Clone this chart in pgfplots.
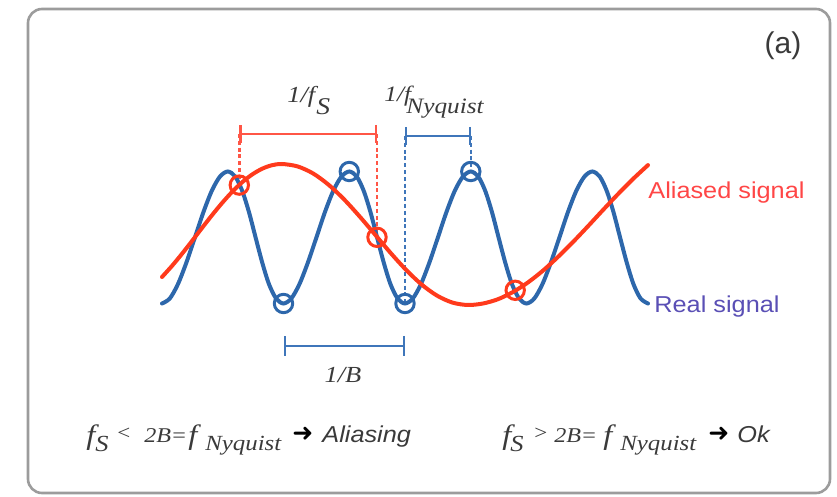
\documentclass[border=0pt]{standalone}
\usepackage{pgfplots}
\pgfplotsset{compat=1.18}
\usetikzlibrary{arrows.meta}
\usepackage{fontspec}
\setmainfont{Liberation Sans}[FakeStretch=1.1]
\newfontfamily\sansplain{Liberation Sans}
\newfontfamily\serif{Liberation Serif}[FakeStretch=1.15]
\newfontfamily\dejavu{DejaVu Sans}
\definecolor{bl}{HTML}{2D67AB}
\definecolor{rd}{HTML}{FF3A1C}
\definecolor{rdl}{HTML}{FF5646}
\definecolor{bll}{HTML}{3F76BA}
\definecolor{pur}{HTML}{5A4FB5}
\definecolor{rdt}{HTML}{FF4646}
\definecolor{frm}{HTML}{9C9C9C}
\definecolor{txt}{HTML}{3A3A3A}
\newcommand{\fs}[1]{\fontsize{#1}{#1}\selectfont}
\begin{document}
\begin{tikzpicture}
\begin{axis}[scale only axis, width=418.5pt, height=248.5pt,
  xmin=0, xmax=837, ymin=0, ymax=497, y dir=reverse,
  hide axis, clip=false]
\path (axis cs:0,0) rectangle (axis cs:837,497);
\draw[frm, line width=1.3pt, rounded corners=7pt] (axis cs:28,9) rectangle (axis cs:830,493);

% dashed guides
\addplot[rdl, line width=1.2pt, dash pattern=on 2pt off 1.4pt, no marks] coordinates {(239.3,134) (239.3,185.1)};
\addplot[rdl, line width=1.2pt, dash pattern=on 2pt off 1.4pt, no marks] coordinates {(377,134) (377,237.3)};
\addplot[bll, line width=1.2pt, dash pattern=on 2pt off 1.4pt, no marks] coordinates {(405,136) (405,303.5)};
\addplot[bll, line width=1.2pt, dash pattern=on 2pt off 1.4pt, no marks] coordinates {(470.8,136) (470.8,171.5)};

% brackets
\addplot[rdl, line width=1.1pt, no marks, {Bar[width=9pt]-Bar[width=9pt]}] coordinates {(239.3,134) (377,134)};
\addplot[bll, line width=1.1pt, no marks, {Bar[width=9pt]-Bar[width=9pt]}] coordinates {(405,136) (470.8,136)};
\addplot[bll, line width=1.1pt, no marks, {Bar[width=10pt]-Bar[width=10pt]}] coordinates {(283.5,346) (405,346)};

% real signal
\addplot[bl, line width=2pt, smooth, no marks, line cap=round] coordinates {
(162,303.5) (169.8,298.5) (177.9,284.2) (186.3,262.8) (194.9,237.5) (203.4,212.2) (211.8,190.8) (220.0,176.5) (227.8,171.5) (235.2,176.5) (242.2,190.8) (249.0,212.2) (255.6,237.5) (262.3,262.8) (269.0,284.2) (276.1,298.5)
(283.5,303.5) (291.3,298.5) (299.4,284.2) (307.8,262.8) (316.4,237.5) (324.9,212.2) (333.3,190.8) (341.5,176.5) (349.3,171.5) (356.7,176.5) (363.7,190.8) (370.5,212.2) (377.1,237.5) (383.8,262.8) (390.5,284.2) (397.6,298.5)
(405,303.5) (412.8,298.5) (420.9,284.2) (429.3,262.8) (437.9,237.5) (446.4,212.2) (454.8,190.8) (463.0,176.5) (470.8,171.5) (478.2,176.5) (485.2,190.8) (492.0,212.2) (498.6,237.5) (505.3,262.8) (512.0,284.2) (519.1,298.5)
(526.5,303.5) (534.3,298.5) (542.4,284.2) (550.8,262.8) (559.4,237.5) (567.9,212.2) (576.3,190.8) (584.5,176.5) (592.3,171.5) (599.7,176.5) (606.7,190.8) (613.5,212.2) (620.1,237.5) (626.8,262.8) (633.5,284.2) (640.6,298.5) (648,303.5)
};

% aliased signal
\addplot[rd, line width=2pt, smooth, no marks, line cap=round] coordinates {
(162,277.0) (172,265.9) (182,253.8) (192,241.0) (202,228.0) (212,215.2) (222,203.1) (232,192.0) (242,182.4) (252,174.6) (262,168.8) (272,165.2) (282,164.0)
(297.5,166.4) (313,173.4) (328.5,184.7) (344,199.3) (359.5,216.3) (375,234.5) (390.5,252.8) (406,269.8) (421.5,284.4) (437,295.6) (452.5,302.6) (468,305.0)
(483,303.5) (498,299.2) (513,292.0) (528,282.4) (543,270.6) (558,256.9) (573,242.0) (588,226.2) (603,210.0) (618,194.1) (633,179.0) (648,165.1)
};

% sample markers
\addplot[only marks, mark=o, mark size=4.6pt, mark options={line width=1.5pt, draw=bl}] coordinates {(283.5,303.5) (349.3,171.5) (405,303.5) (470.8,171.5)};
\addplot[only marks, mark=o, mark size=4.6pt, mark options={line width=1.5pt, draw=rd}] coordinates {(239.3,185.1) (377,237.3) (515.2,290.3)};

% labels
\node[anchor=center, text=txt, inner sep=0] at (axis cs:783,46) {\sansplain\fs{15}(a)};
\node[anchor=west, text=rdt, inner sep=0] at (axis cs:648,193) {\fs{11.5}Aliased signal};
\node[anchor=west, text=pur, inner sep=0] at (axis cs:654,307) {\fs{11.5}Real signal};

\node[anchor=base west, text=txt, inner sep=0] at (axis cs:287,103) {\serif\itshape\fs{11.5}1/f};
\node[anchor=base west, text=txt, inner sep=0] at (axis cs:316,115) {\serif\itshape\fs{12}S};
\node[anchor=base west, text=txt, inner sep=0] at (axis cs:384,102) {\serif\itshape\fs{11}1/f};
\node[anchor=base west, text=txt, inner sep=0] at (axis cs:406,114) {\serif\itshape\fs{11}Nyquist};
\node[anchor=base, text=txt, inner sep=0] at (axis cs:343,383) {\serif\itshape\fs{11.5}1/B};

% bottom formulas
\node[anchor=base west, text=txt, inner sep=0] at (axis cs:86,445) {\serif\itshape\fs{14}f};
\node[anchor=base west, text=txt, inner sep=0] at (axis cs:95,452) {\serif\itshape\fs{11.5}S};
\node[anchor=base west, text=txt, inner sep=0] at (axis cs:117,440) {\serif\fs{10}<};
\node[anchor=base west, text=txt, inner sep=0] at (axis cs:144,443) {\serif\itshape\fs{10.5}2B};
\node[anchor=base west, text=txt, inner sep=0] at (axis cs:172,443) {\serif\fs{10.5}=};
\node[anchor=base west, text=txt, inner sep=0] at (axis cs:188,445) {\serif\itshape\fs{14}f};
\node[anchor=base west, text=txt, inner sep=0] at (axis cs:205,451) {\serif\itshape\fs{10.8}Nyquist};
\node[anchor=west, text=black, inner sep=0] at (axis cs:292,434) {\dejavu\fs{12.5}➜};
\node[anchor=base west, text=txt, inner sep=0] at (axis cs:322,443) {\itshape\fs{11.5}Aliasing};

\node[anchor=base west, text=txt, inner sep=0] at (axis cs:502,445) {\serif\itshape\fs{14}f};
\node[anchor=base west, text=txt, inner sep=0] at (axis cs:510,452) {\serif\itshape\fs{11.5}S};
\node[anchor=base west, text=txt, inner sep=0] at (axis cs:534,440) {\serif\fs{10}>};
\node[anchor=base west, text=txt, inner sep=0] at (axis cs:554,443) {\serif\itshape\fs{10.5}2B};
\node[anchor=base west, text=txt, inner sep=0] at (axis cs:582,443) {\serif\fs{10.5}=};
\node[anchor=base west, text=txt, inner sep=0] at (axis cs:603,445) {\serif\itshape\fs{14}f};
\node[anchor=base west, text=txt, inner sep=0] at (axis cs:620,451) {\serif\itshape\fs{10.8}Nyquist};
\node[anchor=west, text=black, inner sep=0] at (axis cs:708,434) {\dejavu\fs{12.5}➜};
\node[anchor=base west, text=txt, inner sep=0] at (axis cs:737,443) {\itshape\fs{11.5}Ok};
\end{axis}
\end{tikzpicture}
\end{document}
